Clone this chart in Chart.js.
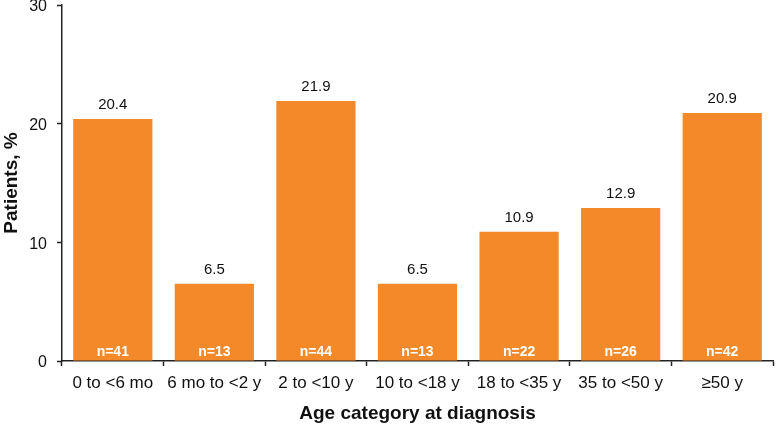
<!DOCTYPE html>
<html>
<head>
<meta charset="utf-8">
<script src="https://cdn.jsdelivr.net/npm/chart.js@4"></script>
<style>
  html, body { margin: 0; padding: 0; background: #fff; }
  #wrap { width: 776px; height: 425px; position: relative; }
</style>
</head>
<body>
<div id="wrap"><canvas id="myChart"></canvas></div>
<script>
const categories = ['0 to <6 mo', '6 mo to <2 y', '2 to <10 y', '10 to <18 y', '18 to <35 y', '35 to <50 y', '\u226550 y'];
const percentValues = [20.4, 6.5, 21.9, 6.5, 10.9, 12.9, 20.9];
const patientCounts = [41, 13, 44, 13, 22, 26, 42];
const yTicks = [0, 10, 20, 30];

const fontFamily = '"Liberation Sans", Arial, Helvetica, sans-serif';

const barLabels = {
    id: 'barLabels',
    afterDatasetsDraw(chart) {
        const ctx = chart.ctx;
        const meta = chart.getDatasetMeta(0);
        const yScale = chart.scales.y;
        const base = yScale.getPixelForValue(0);
        ctx.save();
        ctx.textAlign = 'center';
        ctx.textBaseline = 'middle';
        meta.data.forEach(function(bar, i) {
            ctx.fillStyle = '#111';
            ctx.font = '15px ' + fontFamily;
            ctx.fillText(percentValues[i].toFixed(1), bar.x, bar.y - 14);
            ctx.fillStyle = '#fff';
            ctx.font = 'bold 14px ' + fontFamily;
            ctx.fillText('n=' + patientCounts[i], bar.x, base - 9);
        });
        ctx.restore();
    }
};

const ctx = document.getElementById('myChart').getContext('2d');
new Chart(ctx, {
    type: 'bar',
    data: {
        labels: categories,
        datasets: [{
            data: percentValues,
            backgroundColor: '#f4892a',
            borderWidth: 0,
            categoryPercentage: 1,
            barPercentage: 0.78
        }]
    },
    options: {
        responsive: true,
        maintainAspectRatio: false,
        animation: false,
        layout: {
            padding: { top: 5, right: 3, left: 0, bottom: 0 }
        },
        plugins: {
            legend: { display: false },
            tooltip: { enabled: false }
        },
        scales: {
            x: {
                grid: {
                    offset: true,
                    drawOnChartArea: false,
                    drawTicks: true,
                    tickLength: 5,
                    tickWidth: 1.5,
                    color: '#222'
                },
                border: { color: '#222', width: 1.5 },
                ticks: {
                    color: '#111',
                    padding: 7,
                    maxRotation: 0,
                    autoSkip: false,
                    font: { family: fontFamily, size: 17 }
                },
                title: {
                    display: true,
                    text: 'Age category at diagnosis',
                    color: '#111',
                    padding: { top: 0, bottom: 0 },
                    font: { family: fontFamily, size: 19, weight: 'bold' }
                },
                afterFit: function(scale) {
                    scale.height = 64;
                    scale.paddingLeft = 0;
                    scale.paddingRight = 0;
                }
            },
            y: {
                min: 0,
                max: 30,
                afterBuildTicks: function(scale) {
                    scale.ticks = yTicks.map(function(v) { return { value: v }; });
                },
                grid: {
                    drawOnChartArea: false,
                    drawTicks: true,
                    tickLength: 5,
                    tickWidth: 1.5,
                    color: '#222'
                },
                border: { color: '#222', width: 1.5 },
                ticks: {
                    color: '#111',
                    padding: 10,
                    labelOffset: 2,
                    font: { family: fontFamily, size: 16 }
                },
                title: {
                    display: true,
                    text: 'Patients, %',
                    color: '#111',
                    padding: { top: 0, bottom: 0 },
                    font: { family: fontFamily, size: 19, weight: 'bold' }
                },
                afterFit: function(scale) {
                    scale.width = 62;
                    scale.paddingTop = 0;
                    scale.paddingBottom = 0;
                }
            }
        }
    },
    plugins: [barLabels]
});
</script>
</body>
</html>
